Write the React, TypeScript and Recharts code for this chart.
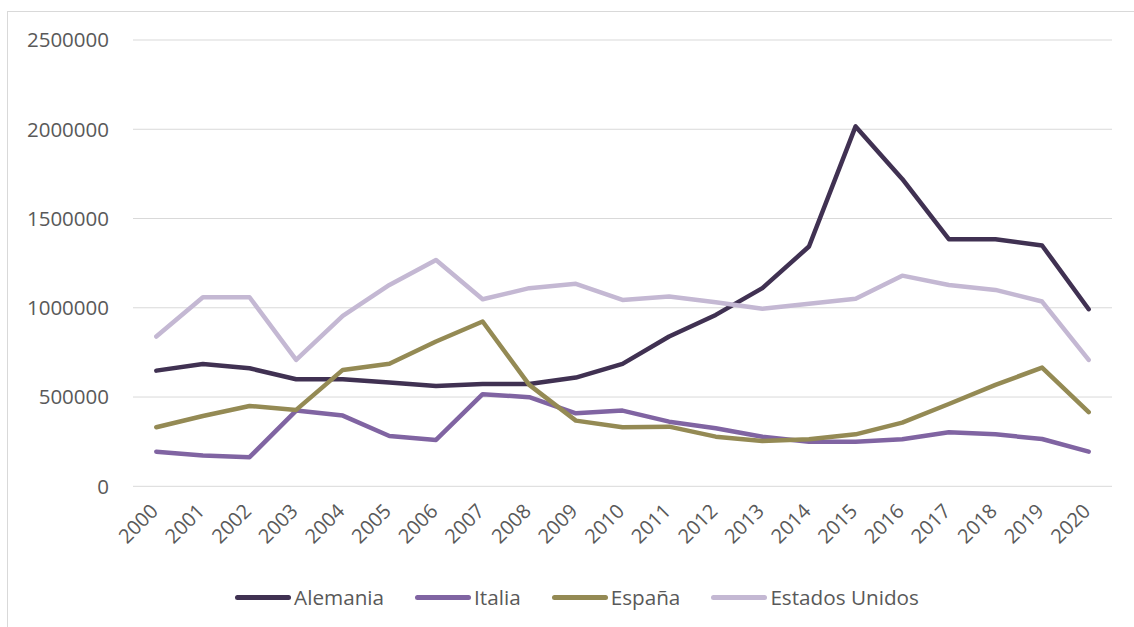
import { LineChart, Line, XAxis, YAxis, CartesianGrid, Legend } from "recharts";

const years = [
  "2000", "2001", "2002", "2003", "2004", "2005", "2006", "2007", "2008", "2009", "2010",
  "2011", "2012", "2013", "2014", "2015", "2016", "2017", "2018", "2019", "2020",
];

const alemania = [
  648000, 685000, 661000, 600000, 600000, 581000, 562000, 573000, 573000, 609000, 686000,
  839000, 960000, 1110000, 1343000, 2016000, 1722000, 1384000, 1384000, 1349000, 992000,
];
const italia = [
  194000, 172000, 163000, 424000, 396000, 282000, 260000, 516000, 499000, 409000, 424000,
  362000, 325000, 278000, 250000, 250000, 263000, 303000, 291000, 265000, 194000,
];
const espana = [
  331000, 394000, 450000, 428000, 652000, 686000, 811000, 923000, 568000, 368000, 331000,
  334000, 278000, 254000, 263000, 291000, 357000, 461000, 568000, 665000, 415000,
];
const estadosUnidos = [
  839000, 1059000, 1059000, 708000, 955000, 1128000, 1268000, 1048000, 1110000, 1134000, 1044000,
  1063000, 1031000, 994000, 1022000, 1050000, 1180000, 1128000, 1100000, 1035000, 708000,
];

const yTicks = [0, 500000, 1000000, 1500000, 2000000, 2500000];

const series = [
  { key: "alemania", name: "Alemania", color: "#403152" },
  { key: "italia", name: "Italia", color: "#8064A2" },
  { key: "espana", name: "España", color: "#948A54" },
  { key: "estadosUnidos", name: "Estados Unidos", color: "#C4B8D3" },
];

const data = years.map((year, i) => ({
  year,
  alemania: alemania[i],
  italia: italia[i],
  espana: espana[i],
  estadosUnidos: estadosUnidos[i],
}));

const FONT = "'Open Sans', sans-serif";
const TEXT = "#595959";

function YearTick({ x, y, payload }: any) {
  const tx = x + 3;
  const ty = y + 26;
  return (
    <text
      x={tx}
      y={ty}
      transform={`rotate(-45, ${tx}, ${ty})`}
      textAnchor="end"
      fill={TEXT}
      fontSize={20}
      fontFamily={FONT}
    >
      {payload.value}
    </text>
  );
}

function LegendContent() {
  return (
    <div
      style={{
        width: 1134,
        height: 60,
        display: "flex",
        alignItems: "center",
        justifyContent: "center",
        paddingLeft: 20,
        boxSizing: "border-box",
        fontFamily: FONT,
        fontSize: 20.7,
        color: TEXT,
      }}
    >
      {series.map((s, i) => (
        <div
          key={s.key}
          style={{ display: "flex", alignItems: "center", marginRight: i < series.length - 1 ? 31 : 0 }}
        >
          <span
            style={{
              display: "inline-block",
              width: 56,
              height: 5,
              borderRadius: 3,
              background: s.color,
              marginRight: 3,
            }}
          />
          <span>{s.name}</span>
        </div>
      ))}
    </div>
  );
}

export default function App() {
  return (
    <div
      style={{
        position: "absolute",
        left: 0,
        top: 0,
        width: 1134,
        height: 627,
        overflow: "hidden",
        background: "#fff",
        fontFamily: FONT,
      }}
    >
      <div
        style={{
          position: "absolute",
          left: 7,
          top: 11,
          width: 1140,
          height: 700,
          border: "1px solid #D9D9D9",
        }}
      />
      <div style={{ position: "absolute", left: 0, top: 0 }}>
        <LineChart
          width={1134}
          height={627}
          data={data}
          margin={{ top: 40, right: 22, left: 0, bottom: 0 }}
        >
          <CartesianGrid vertical={false} stroke="#D9D9D9" strokeWidth={1} />
          <XAxis
            dataKey="year"
            interval={0}
            axisLine={false}
            tickLine={false}
            tickSize={0}
            tickMargin={0}
            height={80.7}
            padding={{ left: 23.3, right: 23.3 }}
            tick={<YearTick />}
          />
          <YAxis
            type="number"
            domain={[0, 2500000]}
            ticks={yTicks}
            tickFormatter={(v: number) => String(v)}
            axisLine={false}
            tickLine={false}
            tickSize={0}
            tickMargin={24}
            width={133}
            tick={{ fill: TEXT, fontSize: 20.5, fontFamily: FONT }}
          />
          <Legend
            verticalAlign="bottom"
            content={<LegendContent />}
            wrapperStyle={{ left: 0, bottom: 0, width: 1134 }}
          />
          {series.map((s) => (
            <Line
              key={s.key}
              type="linear"
              dataKey={s.key}
              name={s.name}
              stroke={s.color}
              strokeWidth={4.5}
              strokeLinejoin="round"
              strokeLinecap="round"
              dot={false}
              isAnimationActive={false}
            />
          ))}
        </LineChart>
      </div>
    </div>
  );
}
